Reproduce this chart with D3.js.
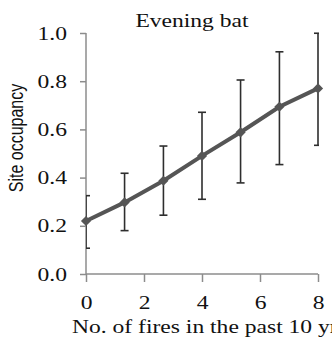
<!DOCTYPE html>
<html><head><meta charset="utf-8">
<script src="https://cdn.jsdelivr.net/npm/d3@7"></script>
<style>body{margin:0;background:#fff}svg{display:block}</style>
</head><body>
<script>
const fires = [0, 1.33, 2.67, 4, 5.33, 6.67, 8];
const occupancy = [0.22, 0.297, 0.387, 0.49, 0.588, 0.694, 0.77];
const upper = [0.325, 0.418, 0.531, 0.671, 0.805, 0.922, 0.999];
const lower = [0.107, 0.18, 0.244, 0.31, 0.378, 0.454, 0.534];
const xTicks = [0, 2, 4, 6, 8];
const yTicks = [0, 0.2, 0.4, 0.6, 0.8, 1.0];

const W = 332, H = 341;
const L = 86, R = 318, T = 33, B = 274;
const svg = d3.select("body").append("svg").attr("width", W).attr("height", H);
const x = d3.scaleLinear().domain([0, 8]).range([L, R]);
const y = d3.scaleLinear().domain([0, 1]).range([B, T]);
const serif = "'Liberation Serif','DejaVu Serif',serif";
const STRETCH = 1.24;
function stretch(sel) {
  sel.each(function () {
    const len = this.getComputedTextLength();
    d3.select(this).attr("textLength", len * STRETCH).attr("lengthAdjust", "spacingAndGlyphs");
  });
}

svg.append("defs").append("clipPath").attr("id", "clip")
  .append("rect").attr("x", L).attr("y", 0).attr("width", R - L + 1).attr("height", H);

// axes
const ya = svg.append("g").attr("transform", `translate(${L},0)`)
  .call(d3.axisLeft(y).tickValues(yTicks).tickFormat(d3.format(".1f")).tickSize(6).tickPadding(13));
const xa = svg.append("g").attr("transform", `translate(0,${B})`)
  .call(d3.axisBottom(x).tickValues(xTicks).tickFormat(d3.format("d")).tickSize(8).tickPadding(14));
[ya, xa].forEach(g => {
  g.select(".domain").attr("stroke", "#8c8c8c").attr("stroke-width", 1.5);
  g.selectAll(".tick line").attr("stroke", "#8c8c8c").attr("stroke-width", 1.5);
  g.selectAll("text").attr("font-family", serif).attr("font-size", 19).attr("fill", "#111").call(stretch);
});
xa.select(".domain").attr("d", `M${L},0H${R}`);
ya.select(".domain").attr("d", `M0,${B}V${T}`);

const plot = svg.append("g").attr("clip-path", "url(#clip)");
const cap = 4;
fires.forEach((f, i) => {
  const cx = x(f);
  plot.append("line").attr("x1", cx).attr("x2", cx).attr("y1", y(lower[i])).attr("y2", y(upper[i]))
    .attr("stroke", "#2e2e2e").attr("stroke-width", 1.6);
  [upper[i], lower[i]].forEach(v => plot.append("line")
    .attr("x1", cx - cap).attr("x2", cx + cap).attr("y1", y(v)).attr("y2", y(v))
    .attr("stroke", "#2e2e2e").attr("stroke-width", 1.6));
});

const pts = fires.map((f, i) => [f, occupancy[i]]);
svg.append("path").datum(pts)
  .attr("d", d3.line().x(d => x(d[0])).y(d => y(d[1])))
  .attr("fill", "none").attr("stroke", "#555").attr("stroke-width", 4);
svg.selectAll(".pt").data(pts).enter().append("path")
  .attr("transform", d => `translate(${x(d[0])},${y(d[1])}) rotate(45)`)
  .attr("d", d3.symbol().type(d3.symbolSquare).size(52))
  .attr("fill", "#555");

svg.append("text").attr("x", 192).attr("y", 27).attr("text-anchor", "middle")
  .attr("font-family", serif).attr("font-size", 19).attr("fill", "#111").text("Evening bat").call(stretch);
svg.append("text").attr("x", 72).attr("y", 333)
  .attr("font-family", serif).attr("font-size", 19).attr("fill", "#111").text("No. of fires in the past 10 yr").call(stretch);
svg.append("text").attr("transform", "translate(23,138) scale(1.24,1) rotate(-90)").attr("text-anchor", "middle")
  .attr("font-family", "'Liberation Sans',Arial,sans-serif").attr("font-size", 16).attr("fill", "#111")
  .text("Site occupancy");
</script>
</body></html>
